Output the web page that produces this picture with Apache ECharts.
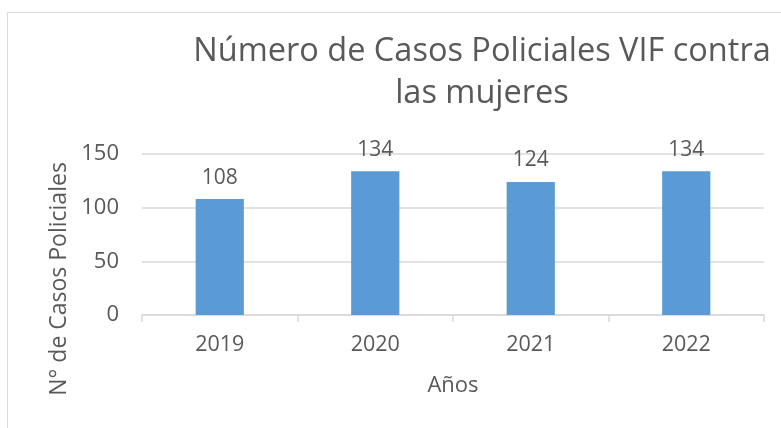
<!DOCTYPE html>
<html>
<head>
<meta charset="utf-8">
<script src="https://cdn.jsdelivr.net/npm/echarts@6/dist/echarts.min.js"></script>
<style>
html,body{margin:0;padding:0;background:#fff;}
#chart{width:781px;height:428px;}
</style>
</head>
<body>
<div id="chart"></div>
<script>
const categories = ['2019', '2020', '2021', '2022'];
const casos = [108, 134, 124, 134];
const yTicks = [0, 50, 100, 150];
const titleText = 'Número de Casos Policiales VIF contra\nlas mujeres';
const yAxisTitle = 'N° de Casos Policiales';
const xAxisTitle = 'Años';

const FONT = 'Open Sans';
const TXT = '#595959';

const chart = echarts.init(document.getElementById('chart'), null, {renderer: 'canvas'});
chart.setOption({
  backgroundColor: '#ffffff',
  animation: false,
  title: {
    text: titleText,
    left: 477,
    top: 26,
    textAlign: 'center',
    textStyle: {fontFamily: FONT, fontSize: 32.5, fontWeight: 'normal', color: TXT, lineHeight: 42}
  },
  grid: {left: 142, right: 17, top: 154, bottom: 113},
  xAxis: {
    type: 'category',
    data: categories,
    name: xAxisTitle,
    nameLocation: 'middle',
    nameGap: 60,
    nameTextStyle: {fontFamily: FONT, fontSize: 22, color: TXT},
    axisLine: {show: true, lineStyle: {color: '#D9D9D9', width: 1.5}},
    axisTick: {show: true, length: 7, lineStyle: {color: '#D9D9D9', width: 1.5}},
    axisLabel: {fontFamily: FONT, fontSize: 21.5, color: TXT, margin: 19}
  },
  yAxis: {
    type: 'value',
    min: yTicks[0],
    max: yTicks[yTicks.length - 1],
    interval: 50,
    axisLine: {show: false},
    axisTick: {show: false},
    axisLabel: {fontFamily: FONT, fontSize: 22, color: TXT, margin: 23},
    splitLine: {lineStyle: {color: '#D9D9D9', width: 1.5}}
  },
  series: [{
    type: 'bar',
    data: casos,
    barWidth: '31%',
    itemStyle: {color: '#5B9BD5'},
    label: {show: true, position: 'top', distance: 11, fontFamily: FONT, fontSize: 21, color: TXT}
  }],
  graphic: [
    {type: 'rect', left: 5, top: 10, shape: {x: 0, y: 0, width: 800, height: 500}, style: {fill: 'none', stroke: '#D9D9D9', lineWidth: 1}, silent: true, z: -1},
    {type: 'text', x: 59, y: 279, rotation: Math.PI / 2, style: {text: yAxisTitle, fontFamily: FONT, fontSize: 23, fill: TXT, textAlign: 'center', textVerticalAlign: 'middle'}}
  ]
});
</script>
</body>
</html>
